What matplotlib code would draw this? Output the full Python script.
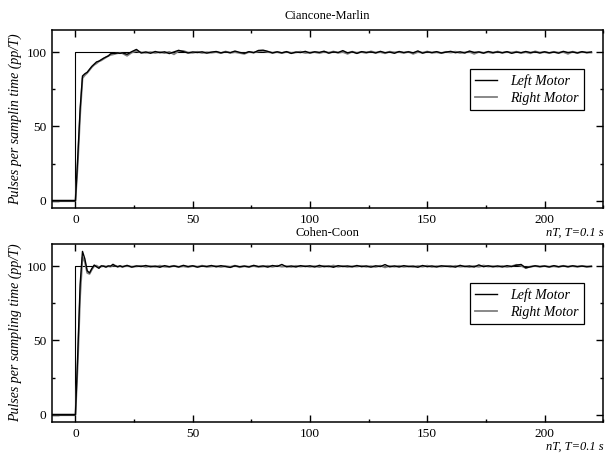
import numpy as np
import matplotlib
matplotlib.use("Agg")
import matplotlib.pyplot as plt
from matplotlib.ticker import MultipleLocator

plt.rcParams["font.family"] = ["Liberation Serif", "DejaVu Serif"]
plt.rcParams["mathtext.fontset"] = "stix"

# sample index n (T = 0.1 s): one point before the step, every sample during the
# transient, every second sample afterwards
n_head = [-10, 0, 1, 2, 3, 4, 5, 6, 7, 8, 9, 10, 11, 12, 13, 14, 15, 16, 17, 18, 19]
n_tail = list(range(20, 221, 2))
n_all = n_head + n_tail

# setpoint
sp_n = [-10, 0, 0, 220]
sp_v = [0, 0, 100, 100]

# Ciancone-Marlin
cm_left_head = [0, 0, 30, 62, 84, 85.5, 86.5, 88.5, 90.5, 92, 93.5, 94, 95, 96, 96.8,
                97.5, 99, 99.3, 99.2, 99.5, 99.2]
cm_right_head = [0, 0, 25, 58, 82.5, 84.5, 86, 88, 90, 91.5, 92.5, 93.8, 94.5, 95.5, 96.5,
                 97.5, 98.2, 98.5, 99, 99.3, 99.5]
cm_left_tail = [
    99.6, 98.6, 100.4, 101.9, 99.5, 100.2, 99.3, 100.5, 99.7, 100.3,
    99.1, 100.2, 101.3, 100.4, 99.5, 100.2, 99.8, 100.3, 99.4, 100.1,
    100.5, 99.6, 100.2, 99.7, 100.8, 99.9, 99.3, 100.4, 99.7, 101.2,
    101.4, 100.6, 99.5, 100.3, 99.6, 100.4, 99.2, 100.1, 99.8, 100.6,
    99.5, 100.3, 99.9, 100.7, 99.4, 100.2, 99.8, 101.1, 99.6, 100.3,
    99.2, 100.4, 99.9, 100.2, 99.5, 100.6, 99.7, 100.1, 99.3, 100.5,
    99.8, 100.3, 99.6, 100.9, 99.4, 100.2, 99.8, 100.4, 99.5, 100.1,
    100.6, 99.7, 100.3, 99.5, 100.8, 99.9, 100.2, 99.4, 100.5, 99.8,
    100.2, 99.6, 100.4, 99.3, 100.1, 99.7, 100.5, 99.8, 100.2, 99.5,
    100.3, 99.6, 100.1, 99.4, 100.6, 99.8, 100.2, 99.5, 100.4, 99.7,
    100.2]
cm_right_tail = [
    99.3, 97.6, 99.8, 100.9, 99.9, 99.6, 100.1, 99.5, 100.2, 99.4,
    100.3, 98.6, 100.8, 100.9, 99.8, 99.6, 100.3, 99.5, 100.0, 99.7,
    100.2, 99.4, 100.5, 99.6, 100.1, 99.5, 98.9, 100.2, 99.8, 100.6,
    100.9, 100.2, 99.7, 100.1, 99.4, 100.3, 99.6, 99.9, 100.4, 99.5,
    99.8, 100.1, 99.4, 100.3, 99.7, 100.5, 99.6, 100.2, 98.9, 100.4,
    99.6, 100.2, 99.5, 100.6, 99.8, 100.1, 99.3, 100.4, 99.9, 100.2,
    99.5, 100.3, 98.9, 100.2, 99.7, 100.5, 99.6, 100.0, 99.4, 100.3,
    99.8, 100.4, 99.5, 99.9, 100.3, 98.9, 100.2, 99.6, 100.1, 99.4,
    100.5, 99.7, 100.2, 99.8, 100.4, 99.5, 100.1, 99.3, 100.6, 99.8,
    100.1, 99.5, 100.3, 99.7, 100.2, 98.9, 100.4, 99.6, 100.2, 99.9,
    99.8]

# Cohen-Coon
cc_left_head = [0, 0, 42, 88, 110, 105, 97, 95.5, 98.5, 100.8, 99.6, 98.6, 100.3, 100.0,
                99.4, 100.2, 100.1, 101.3, 100.2, 99.6, 100.3]
cc_right_head = [0, 0, 35, 80, 106, 103, 95.5, 94.8, 97.8, 100.2, 100.4, 99.2, 99.8, 100.2,
                 99.8, 100.0, 99.7, 100.6, 100.4, 99.8, 100.0]
cc_left_tail = [
    99.5, 100.6, 99.4, 100.2, 99.8, 100.5, 99.6, 100.1, 99.3, 100.4,
    99.7, 100.2, 99.5, 100.6, 99.8, 100.3, 99.4, 100.1, 99.9, 100.5,
    99.6, 100.4, 99.8, 99.2, 100.3, 99.7, 100.1, 99.5, 100.6, 99.8,
    100.2, 99.4, 100.5, 99.9, 101.2, 99.6, 100.2, 99.5, 100.4, 99.8,
    100.3, 99.5, 100.6, 99.7, 100.1, 99.3, 100.4, 99.8, 100.2, 99.6,
    100.5, 99.7, 100.2, 99.4, 100.3, 99.8, 101.1, 99.6, 100.2, 99.5,
    100.4, 99.8, 100.1, 99.3, 100.5, 99.7, 100.2, 99.5, 100.3, 99.9,
    100.1, 99.4, 100.6, 99.8, 100.2, 99.5, 100.9, 99.7, 100.3, 99.6,
    100.2, 99.5, 100.4, 99.8, 100.7, 101.2, 98.9, 99.6, 100.3, 99.8,
    100.1, 99.5, 100.4, 99.7, 100.2, 99.6, 100.3, 99.8, 100.1, 99.6,
    100.0]
cc_right_tail = [
    99.8, 100.2, 99.7, 99.9, 100.3, 99.5, 100.2, 99.6, 100.4, 99.7,
    99.5, 100.3, 99.6, 100.0, 99.4, 100.2, 99.7, 100.4, 99.5, 99.9,
    100.2, 99.5, 100.1, 99.6, 100.4, 99.3, 100.0, 99.7, 100.2, 99.5,
    99.8, 100.3, 99.6, 100.4, 99.7, 100.1, 99.5, 100.3, 99.8, 100.2,
    99.6, 100.1, 99.4, 100.3, 99.7, 100.5, 99.6, 100.2, 99.5, 100.0,
    99.8, 100.3, 99.6, 100.1, 99.5, 100.4, 99.2, 100.2, 99.7, 100.3,
    99.6, 100.0, 99.5, 100.2, 99.7, 100.4, 99.5, 100.1, 99.8, 100.2,
    99.5, 100.3, 99.7, 100.0, 99.4, 100.2, 99.6, 100.5, 99.8, 100.1,
    99.7, 100.2, 99.5, 100.0, 101.0, 100.3, 98.8, 99.8, 100.2, 99.6,
    100.2, 99.7, 100.0, 99.5, 100.3, 99.8, 100.1, 99.6, 100.2, 99.9,
    99.8]

panels = [
    ("Ciancone-Marlin", "Pulses per samplin time (pp/T)", 8,
     cm_left_head + cm_left_tail, cm_right_head + cm_right_tail),
    ("Cohen-Coon", "Pulses per sampling time (pp/T)", 6,
     cc_left_head + cc_left_tail, cc_right_head + cc_right_tail),
]

fig = plt.figure(figsize=(6.09, 4.53), dpi=100)
boxes = [[0.0854, 0.5408, 0.905, 0.393], [0.0854, 0.0684, 0.905, 0.393]]

for box, (title, ylab, tpad, left, right) in zip(boxes, panels):
    ax = fig.add_axes(box)
    ax.plot(sp_n, sp_v, color="black", lw=0.8)
    ax.plot(n_all, right, color="#7f7f7f", lw=1.3, label="Right Motor")
    ax.plot(n_all, left, color="black", lw=1.0, label="Left Motor")
    ax.set_xlim(-10, 225)
    ax.set_ylim(-5, 115)
    ax.xaxis.set_major_locator(MultipleLocator(50))
    ax.xaxis.set_minor_locator(MultipleLocator(25))
    ax.yaxis.set_major_locator(MultipleLocator(50))
    ax.yaxis.set_minor_locator(MultipleLocator(25))
    ax.tick_params(which="both", direction="in", top=True, right=True,
                   labelsize=9.6, width=1.0, pad=4)
    ax.tick_params(which="major", length=5)
    ax.tick_params(which="minor", length=2.5)
    for sp in ax.spines.values():
        sp.set_linewidth(1.1)
    ax.set_title(title, fontsize=9, pad=tpad)
    ax.set_ylabel(ylab, fontsize=10, style="italic", labelpad=3)
    ax.set_xlabel("nT, T=0.1 s", fontsize=9, style="italic", loc="right", labelpad=0.5)
    handles, labels = ax.get_legend_handles_labels()
    leg = ax.legend(handles[::-1], labels[::-1], loc="upper right",
                    bbox_to_anchor=(0.965, 0.781), borderaxespad=0,
                    prop={"style": "italic", "size": 10},
                    fancybox=False, framealpha=1, edgecolor="black",
                    handlelength=1.6, handletextpad=0.9, borderpad=0.4, labelspacing=0.25)
    leg.get_frame().set_linewidth(0.9)

fig.savefig("out.png", dpi=100)
